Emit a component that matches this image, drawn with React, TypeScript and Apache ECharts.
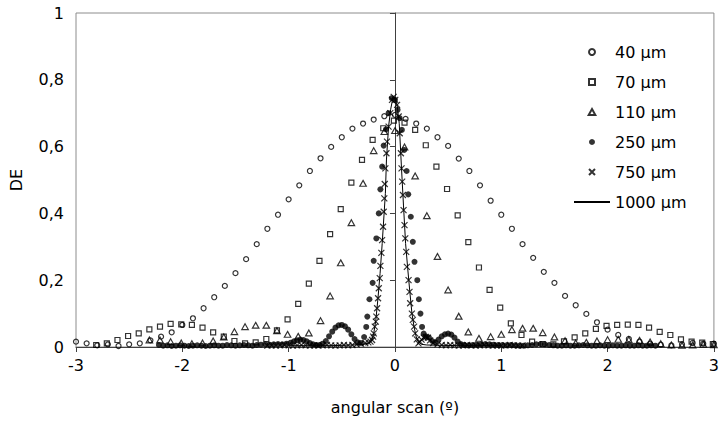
import { useEffect, useRef } from "react";
import * as echarts from "echarts";

// Angular selectivity of diffraction efficiency (DE) for several grating thicknesses.
const FONT = '"DejaVu Sans", "Liberation Sans", Arial, sans-serif';

const xRange = [-3, 3];
const yRange = [0, 1];
const xTitle = "angular scan (º)";
const yTitle = "DE";
const seriesNames = ["40 µm", "70 µm", "110 µm", "250 µm", "750 µm", "1000 µm"];

// 40 µm: sampled every 0.1º
const de40: [number, number][] = [
  [-3.0, 0.016], [-2.9, 0.011], [-2.8, 0.005], [-2.7, 0.008], [-2.6, 0.003], [-2.5, 0.008],
  [-2.4, 0.011], [-2.3, 0.02], [-2.2, 0.031], [-2.1, 0.044], [-2.0, 0.066], [-1.9, 0.086],
  [-1.8, 0.116], [-1.7, 0.149], [-1.6, 0.183], [-1.5, 0.221], [-1.4, 0.263], [-1.3, 0.308],
  [-1.2, 0.354], [-1.1, 0.396], [-1.0, 0.442], [-0.9, 0.484], [-0.8, 0.527], [-0.7, 0.565],
  [-0.6, 0.599], [-0.5, 0.628], [-0.4, 0.654], [-0.3, 0.669], [-0.2, 0.681], [-0.1, 0.691],
  [0.0, 0.695], [0.1, 0.683], [0.2, 0.669], [0.3, 0.654], [0.4, 0.628], [0.5, 0.602],
  [0.6, 0.564], [0.7, 0.527], [0.8, 0.484], [0.9, 0.438], [1.0, 0.396], [1.1, 0.354],
  [1.2, 0.308], [1.3, 0.267], [1.4, 0.225], [1.5, 0.192], [1.6, 0.153], [1.7, 0.125],
  [1.8, 0.099], [1.9, 0.074], [2.0, 0.052], [2.1, 0.036], [2.2, 0.024], [2.3, 0.016],
  [2.4, 0.01], [2.5, 0.007], [2.6, 0.005], [2.7, 0.008], [2.8, 0.012], [2.9, 0.01], [3.0, 0.01],
];

// 70 µm
const de70: [number, number][] = [
  [-2.81, 0.006], [-2.71, 0.011], [-2.61, 0.021], [-2.51, 0.033], [-2.41, 0.041], [-2.31, 0.053],
  [-2.21, 0.061], [-2.11, 0.069], [-2.01, 0.068], [-1.91, 0.066], [-1.81, 0.058], [-1.71, 0.044],
  [-1.61, 0.031], [-1.51, 0.018], [-1.41, 0.011], [-1.31, 0.014], [-1.21, 0.024], [-1.11, 0.05],
  [-1.01, 0.083], [-0.91, 0.129], [-0.81, 0.19], [-0.71, 0.258], [-0.61, 0.338], [-0.51, 0.413],
  [-0.41, 0.492], [-0.31, 0.56], [-0.21, 0.62], [-0.11, 0.655], [-0.01, 0.678], [0.09, 0.672],
  [0.19, 0.65], [0.29, 0.604], [0.39, 0.54], [0.49, 0.473], [0.59, 0.394], [0.69, 0.314],
  [0.79, 0.238], [0.89, 0.171], [0.99, 0.118], [1.09, 0.071], [1.19, 0.036], [1.29, 0.016],
  [1.39, 0.009], [1.49, 0.008], [1.59, 0.017], [1.69, 0.029], [1.79, 0.041], [1.89, 0.054],
  [1.99, 0.063], [2.09, 0.066], [2.19, 0.067], [2.29, 0.066], [2.39, 0.058], [2.49, 0.045],
  [2.59, 0.036], [2.69, 0.023], [2.79, 0.016], [2.89, 0.013], [2.99, 0.009],
];

// 110 µm
const de110: [number, number][] = [
  [-2.31, 0.021], [-2.21, 0.021], [-2.11, 0.016], [-2.01, 0.012], [-1.91, 0.01], [-1.81, 0.012],
  [-1.71, 0.018], [-1.61, 0.03], [-1.51, 0.046], [-1.41, 0.061], [-1.31, 0.065], [-1.21, 0.065],
  [-1.11, 0.049], [-1.01, 0.038], [-0.91, 0.032], [-0.81, 0.042], [-0.7, 0.079], [-0.61, 0.153],
  [-0.51, 0.252], [-0.41, 0.372], [-0.3, 0.49], [-0.2, 0.588], [-0.1, 0.645], [0.0, 0.648],
  [0.09, 0.599], [0.19, 0.512], [0.3, 0.393], [0.4, 0.271], [0.5, 0.171], [0.6, 0.092],
  [0.69, 0.045], [0.79, 0.026], [0.9, 0.031], [1.0, 0.038], [1.1, 0.052], [1.2, 0.056],
  [1.3, 0.056], [1.39, 0.043], [1.5, 0.03], [1.6, 0.019], [1.7, 0.012], [1.8, 0.014],
  [1.9, 0.018], [2.0, 0.022], [2.1, 0.023], [2.2, 0.022], [2.3, 0.02], [2.4, 0.015],
  [2.5, 0.01], [2.6, 0.006], [2.7, 0.005], [2.8, 0.006], [2.9, 0.008], [3.0, 0.007],
];

// 250 µm
const de250: [number, number][] = [
  [-2.22, 0.006], [-2.18, 0.004], [-2.14, 0.005], [-2.1, 0.003], [-2.06, 0.004], [-2.02, 0.005],
  [-1.98, 0.004], [-1.94, 0.003], [-1.9, 0.004], [-1.86, 0.005], [-1.82, 0.004], [-1.78, 0.003],
  [-1.74, 0.004], [-1.7, 0.005], [-1.66, 0.004], [-1.62, 0.004], [-1.58, 0.006], [-1.54, 0.005],
  [-1.5, 0.004], [-1.46, 0.005], [-1.42, 0.006], [-1.38, 0.005], [-1.34, 0.004], [-1.3, 0.006],
  [-1.26, 0.007], [-1.22, 0.008], [-1.18, 0.007], [-1.14, 0.008], [-1.1, 0.009], [-1.06, 0.008],
  [-1.02, 0.01], [-0.98, 0.013], [-0.95, 0.017], [-0.92, 0.02], [-0.89, 0.022], [-0.86, 0.021],
  [-0.83, 0.017], [-0.8, 0.012], [-0.77, 0.008], [-0.74, 0.006], [-0.71, 0.006], [-0.68, 0.01],
  [-0.65, 0.018], [-0.62, 0.032], [-0.59, 0.046], [-0.56, 0.058], [-0.53, 0.065], [-0.5, 0.066],
  [-0.47, 0.062], [-0.44, 0.052], [-0.41, 0.038], [-0.38, 0.024], [-0.35, 0.014], [-0.32, 0.012],
  [-0.29, 0.03], [-0.27, 0.06], [-0.26, 0.091], [-0.24, 0.143], [-0.21, 0.192], [-0.2, 0.258],
  [-0.175, 0.325], [-0.152, 0.4], [-0.137, 0.472], [-0.12, 0.54], [-0.106, 0.603], [-0.084, 0.652],
  [-0.06, 0.7], [-0.03, 0.745], [0.0, 0.74], [0.025, 0.71], [0.044, 0.685], [0.065, 0.65],
  [0.087, 0.59], [0.11, 0.527], [0.125, 0.457], [0.149, 0.39], [0.168, 0.315], [0.184, 0.255],
  [0.21, 0.2], [0.225, 0.143], [0.24, 0.1], [0.255, 0.06], [0.27, 0.04], [0.29, 0.032],
  [0.32, 0.028], [0.35, 0.018], [0.38, 0.014], [0.41, 0.022], [0.44, 0.032], [0.47, 0.038],
  [0.5, 0.04], [0.53, 0.037], [0.56, 0.028], [0.59, 0.016], [0.62, 0.009], [0.65, 0.006],
  [0.69, 0.005], [0.73, 0.006], [0.77, 0.007], [0.81, 0.008], [0.85, 0.009], [0.89, 0.008],
  [0.93, 0.007], [0.97, 0.006], [1.01, 0.006], [1.05, 0.005], [1.09, 0.006], [1.13, 0.005],
  [1.17, 0.004], [1.21, 0.004], [1.25, 0.005], [1.29, 0.006], [1.33, 0.008], [1.37, 0.009],
  [1.41, 0.008], [1.45, 0.006], [1.49, 0.005], [1.53, 0.004], [1.57, 0.004], [1.61, 0.005],
  [1.65, 0.004], [1.69, 0.004], [1.73, 0.005], [1.77, 0.006], [1.81, 0.005], [1.85, 0.004],
  [1.89, 0.004], [1.93, 0.005], [1.97, 0.004], [2.01, 0.004], [2.05, 0.005], [2.09, 0.004],
  [2.13, 0.004], [2.17, 0.005], [2.21, 0.004], [2.25, 0.004], [2.29, 0.005], [2.33, 0.004],
  [2.37, 0.004], [2.41, 0.005], [2.45, 0.004],
];

// 750 µm
const de750: [number, number][] = [
  [-1.2, 0.004], [-1.16, 0.005], [-1.12, 0.004], [-1.08, 0.005], [-1.04, 0.006], [-1.0, 0.005],
  [-0.96, 0.004], [-0.92, 0.005], [-0.88, 0.006], [-0.84, 0.005], [-0.8, 0.004], [-0.76, 0.005],
  [-0.72, 0.004], [-0.68, 0.005], [-0.64, 0.006], [-0.6, 0.005], [-0.56, 0.004], [-0.52, 0.005],
  [-0.48, 0.006], [-0.44, 0.005], [-0.4, 0.006], [-0.36, 0.008], [-0.32, 0.01], [-0.28, 0.012],
  [-0.25, 0.014], [-0.23, 0.016], [-0.215, 0.021], [-0.205, 0.031], [-0.199, 0.041], [-0.19, 0.061],
  [-0.18, 0.076], [-0.175, 0.091], [-0.168, 0.116], [-0.159, 0.146], [-0.152, 0.176], [-0.143, 0.206],
  [-0.137, 0.243], [-0.128, 0.282], [-0.121, 0.32], [-0.112, 0.36], [-0.106, 0.405], [-0.1, 0.445],
  [-0.096, 0.488], [-0.09, 0.535], [-0.08, 0.58], [-0.075, 0.615], [-0.06, 0.66], [-0.044, 0.7],
  [-0.028, 0.74], [-0.012, 0.749], [0.003, 0.74], [0.02, 0.725], [0.035, 0.69], [0.045, 0.64],
  [0.056, 0.58], [0.062, 0.535], [0.068, 0.495], [0.075, 0.455], [0.081, 0.41], [0.09, 0.365],
  [0.097, 0.325], [0.106, 0.285], [0.112, 0.24], [0.128, 0.2], [0.137, 0.165], [0.143, 0.131],
  [0.159, 0.1], [0.168, 0.081], [0.18, 0.061], [0.19, 0.041], [0.205, 0.023], [0.221, 0.011],
  [0.235, 0.016], [0.25, 0.022], [0.27, 0.028], [0.29, 0.03], [0.31, 0.028], [0.33, 0.02],
  [0.36, 0.012], [0.4, 0.008], [0.44, 0.006], [0.48, 0.005], [0.52, 0.006], [0.56, 0.005],
  [0.6, 0.004], [0.64, 0.005], [0.68, 0.006], [0.72, 0.005], [0.76, 0.004], [0.8, 0.005],
  [0.84, 0.006], [0.88, 0.005], [0.92, 0.004], [0.96, 0.005], [1.0, 0.004], [1.04, 0.005],
  [1.08, 0.006], [1.12, 0.005], [1.16, 0.004], [1.2, 0.005],
];

// 1000 µm
const de1000: [number, number][] = [
  [-1.0, 0.004], [-0.6, 0.004], [-0.4, 0.006], [-0.3, 0.008], [-0.25, 0.012], [-0.22, 0.018],
  [-0.2, 0.04], [-0.18, 0.08], [-0.16, 0.145], [-0.14, 0.22], [-0.12, 0.31], [-0.1, 0.41],
  [-0.09, 0.46], [-0.08, 0.56], [-0.06, 0.66], [-0.04, 0.712], [-0.02, 0.745], [0.0, 0.745],
  [0.02, 0.725], [0.04, 0.67], [0.06, 0.545], [0.08, 0.425], [0.1, 0.31], [0.12, 0.235],
  [0.14, 0.165], [0.16, 0.1], [0.18, 0.06], [0.2, 0.03], [0.22, 0.015], [0.25, 0.008],
  [0.3, 0.006], [0.6, 0.004], [1.0, 0.004],
];

// Marker outlines as paths so that they keep their aspect in the legend too
const squarePath = "path://M0,0L10,0L10,10L0,10Z";
const trianglePath = "path://M5,0L10,9L0,9Z";
const crossPath = "path://M0,0L10,10M10,0L0,10";

function hollow(symbol: string, size: number) {
  return {
    type: "scatter" as const,
    symbol,
    symbolSize: size,
    symbolKeepAspect: true,
    itemStyle: { color: "rgba(255,255,255,0)", borderColor: "#000", borderWidth: 1.2 },
  };
}

export default function App() {
  const ref = useRef<HTMLDivElement>(null);

  useEffect(() => {
    if (!ref.current) return;
    const chart = echarts.init(ref.current, undefined, { renderer: "svg" });
    const comma = (v: number) => String(v).replace(".", ",");

    chart.setOption({
      animation: false,
      backgroundColor: "#fff",
      textStyle: { fontFamily: FONT, color: "#000" },
      grid: {
        left: 76,
        right: 4,
        top: 13,
        bottom: 76,
        show: true,
        borderColor: "#8c8c8c",
        borderWidth: 1,
      },
      legend: {
        orient: "vertical",
        left: 573,
        top: 44,
        padding: 0,
        itemWidth: 36,
        itemHeight: 6,
        itemGap: 14,
        symbolKeepAspect: true,
        textStyle: { fontFamily: FONT, fontSize: 16, color: "#000" },
        data: [
          ...seriesNames.slice(0, 5),
          { name: seriesNames[5], itemStyle: { color: "rgba(0,0,0,0)", borderWidth: 0 } },
        ],
      },
      xAxis: {
        type: "value",
        min: xRange[0],
        max: xRange[1],
        interval: 1,
        name: xTitle,
        nameLocation: "middle",
        nameGap: 52,
        nameTextStyle: { fontFamily: FONT, fontSize: 16, color: "#000" },
        axisLine: { show: true, onZero: false, lineStyle: { color: "#404040", width: 1 } },
        axisTick: { show: true, inside: false, length: 5, lineStyle: { color: "#404040" } },
        axisLabel: { fontFamily: FONT, fontSize: 16, color: "#000", margin: 10, formatter: comma },
        splitLine: { show: false },
      },
      yAxis: {
        type: "value",
        min: yRange[0],
        max: yRange[1],
        interval: 0.2,
        name: yTitle,
        nameLocation: "middle",
        nameGap: 52,
        nameTextStyle: { fontFamily: FONT, fontSize: 16, color: "#000" },
        axisLine: { show: true, lineStyle: { color: "#404040", width: 1 } },
        axisTick: { show: true, inside: false, length: 5, lineStyle: { color: "#404040" } },
        axisLabel: { fontFamily: FONT, fontSize: 16, color: "#000", margin: 12, formatter: comma },
        splitLine: { show: false },
      },
      series: [
        { name: seriesNames[0], ...hollow("circle", 5), data: de40 },
        { name: seriesNames[1], ...hollow(squarePath, 5), data: de70 },
        { name: seriesNames[2], ...hollow(trianglePath, 6.5), data: de110 },
        {
          name: seriesNames[3],
          type: "scatter",
          symbol: "circle",
          symbolSize: 6,
          itemStyle: { color: "#000" },
          data: de250,
        },
        {
          name: seriesNames[4],
          type: "scatter",
          symbol: crossPath,
          symbolSize: 6,
          symbolKeepAspect: true,
          itemStyle: { color: "#000", borderColor: "#000", borderWidth: 1.2 },
          data: de750,
        },
        {
          name: seriesNames[5],
          type: "line",
          showSymbol: false,
          symbol: "none",
          lineStyle: { color: "#000", width: 1 },
          itemStyle: { color: "#000" },
          data: de1000,
        },
      ],
    });

    return () => chart.dispose();
  }, []);

  return (
    <div
      ref={ref}
      style={{ position: "fixed", left: 0, top: 0, width: 722, height: 423, background: "#fff" }}
    />
  );
}
